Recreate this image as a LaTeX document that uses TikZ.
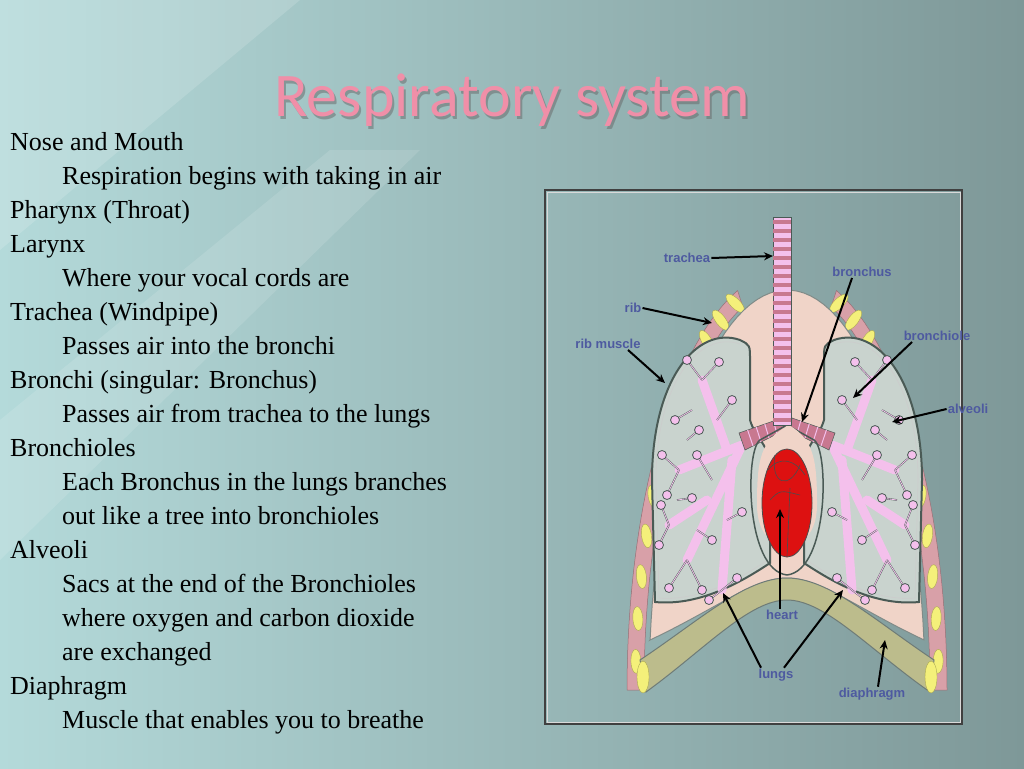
\documentclass[tikz,border=0pt]{standalone}
\usepackage{fontspec}
\setmainfont{Liberation Serif}
\newfontfamily\titlefont{Carlito}
\newfontfamily\labfont{Liberation Sans}
\usetikzlibrary{arrows.meta,calc}
\definecolor{ttl}{HTML}{F08FA8}
\definecolor{muscle}{HTML}{D8A0A8}
\definecolor{ribc}{HTML}{F4F07A}
\definecolor{peach}{HTML}{F0D4C8}
\definecolor{lungc}{HTML}{C9D3CE}
\definecolor{edge}{HTML}{4A5A55}
\definecolor{bron}{HTML}{F4C0EC}
\definecolor{ring}{HTML}{C87890}
\definecolor{dia}{HTML}{BCBC8C}
\definecolor{heartc}{HTML}{DD1111}
\definecolor{labc}{HTML}{4E5AA0}
\definecolor{bgUL}{HTML}{B4DADA}
\definecolor{bgLR}{HTML}{7E9898}
\tikzset{
  body/.style={anchor=base west,font=\fontsize{26}{34}\selectfont,text=black,inner sep=0},
  lab/.style={font=\labfont\bfseries\fontsize{13}{15}\selectfont,text=labc,inner sep=1},
  arr/.style={-{Stealth[length=9pt,width=8pt]},line width=2pt,black},
  alv/.style={fill=bron,draw=edge,line width=0.8pt}
}
\begin{document}
\begin{tikzpicture}[x=1pt,y=-1pt]
\useasboundingbox (0,0) rectangle (1024,768);
\shade[left color=bgUL,right color=bgLR] (0,0) rectangle (1024,768);
\fill[white,opacity=0.15] (0,0) -- (300,0) -- (0,250) -- cycle;
\fill[white,opacity=0.12] (0,420) -- (330,150) -- (420,150) -- (0,560) -- cycle;
% title
\node[font=\titlefont\fontsize{62}{70}\selectfont,text=black!60,opacity=0.5] at (514,103) {Respiratory system};
\node[font=\titlefont\fontsize{62}{70}\selectfont,text=ttl] (title) at (512,100) {Respiratory system};
% body text
\node[body] (t1) at (10,150) {Nose and Mouth};
\node[body] (t2) at (62,184) {Respiration begins with taking in air};
\node[body] (t3) at (10,218) {Pharynx (Throat)};
\node[body] (t4) at (10,252) {Larynx};
\node[body] (t5) at (62,286) {Where your vocal cords are};
\node[body] (t6) at (10,320) {Trachea (Windpipe)};
\node[body] (t7) at (62,354) {Passes air into the bronchi};
\node[body] (t8) at (10,388) {Bronchi (singular: Bronchus)};
\node[body] (t9) at (62,422) {Passes air from trachea to the lungs};
\node[body] (t10) at (10,456) {Bronchioles};
\node[body] (t11) at (62,490) {Each Bronchus in the lungs branches};
\node[body] (t12) at (62,524) {out like a tree into bronchioles};
\node[body] (t13) at (10,558) {Alveoli};
\node[body] (t14) at (62,592) {Sacs at the end of the Bronchioles};
\node[body] (t15) at (62,626) {where oxygen and carbon dioxide};
\node[body] (t16) at (62,660) {are exchanged};
\node[body] (t17) at (10,694) {Diaphragm};
\node[body] (t18) at (62,728) {Muscle that enables you to breathe};
% frame
\draw[black!75,line width=1.5pt] (545,190) rectangle (962,724);
\draw[white!70!gray,line width=0.6pt] (547,192) rectangle (960,722);
% rib muscle band (both sides)
\foreach \s in {1,-1}{
\begin{scope}[shift={(787,0)},xscale=\s]
\fill[muscle,draw=muscle!70!black,line width=0.5pt] plot[domain=0:72,samples=40] ({-160*cos(\x)},{690-420*sin(\x)})
  -- plot[domain=72:0,samples=40] ({-143*cos(\x)},{690-403*sin(\x)}) -- cycle;
\foreach \t in {4,10,...,70}{
  \pgfmathsetmacro{\px}{-151.5*cos(\t)}
  \pgfmathsetmacro{\py}{690-411.5*sin(\t)}
  \pgfmathsetmacro{\an}{atan2(411.5*cos(\t),151.5*sin(\t))}
  \fill[ribc,draw=ribc!70!black,line width=0.4pt,shift={(\px,\py)},rotate=-\an] (0,0) ellipse (12 and 5);
}
\end{scope}}
% pleural region
\fill[peach,draw=edge!70,line width=1pt] plot[domain=7.2:172.8,samples=60] ({787-138*cos(\x)},{690-400*sin(\x)})
  .. controls (860,610) and (820,578) .. (787,578) .. controls (754,578) and (714,610) .. (650,640) -- cycle;
% diaphragm
\fill[dia,draw=edge!80,line width=1pt] (640,660) .. controls (700,620) and (745,578) .. (787,578)
  .. controls (829,578) and (874,620) .. (934,660) -- (930,692) .. controls (870,650) and (825,600) .. (787,600)
  .. controls (749,600) and (704,650) .. (646,692) -- cycle;
\fill[ribc,draw=ribc!70!black] (643,677) ellipse (6 and 16);
\fill[ribc,draw=ribc!70!black] (931,677) ellipse (6 and 16);
% lungs
\foreach \s in {1,-1}{
\begin{scope}[shift={(787,0)},xscale=\s]
\filldraw[lungc,draw=edge,line width=2pt] (-47,340) .. controls (-90,325) and (-135,380) .. (-135,480)
  -- (-132,602) .. controls (-90,606) and (-50,585) .. (-17,563) -- (-17,468)
  .. controls (-17,445) and (-32,438) .. (-37,420) -- (-37,360) .. controls (-37,345) .. cycle;
\draw[white!60!gray,line width=0.6pt] (-47,344) .. controls (-88,330) and (-131,383) .. (-131,480)
  -- (-128,598) .. controls (-90,601) and (-52,582) .. (-21,561);
% bronchi trees
\foreach \a/\b in {{(-45,445)}/{(-100,560)},{(-45,445)}/{(-108,470)},{(-60,450)}/{(-85,380)},{(-55,460)}/{(-65,590)},{(-80,500)}/{(-118,525)}}{
  \draw[bron,line width=9pt,line cap=round] \a -- \b;}
\foreach \x/\y/\u/\v in {-100/560/-118/588,-100/560/-85/590,-108/470/-125/455,-108/470/-120/495,-85/380/-100/360,-85/380/-68/362,
  -65/590/-50/578,-65/590/-78/600,-118/525/-128/545,-118/525/-126/505,-90/530/-75/540,-95/410/-112/420,-70/420/-55/400,
  -75/480/-90/455,-60/520/-45/512,-110/500/-95/498,-100/440/-88/430}{
  \draw[edge,line width=1.6pt] (\x,\y) -- (\u,\v);
  \draw[bron,line width=0.8pt] (\x,\y) -- (\u,\v);
  \draw[alv] (\u,\v) circle (4.5);}
% bronchus
\fill[ring,draw=edge,line width=0.5pt] (-5,418) -- (-48,433) -- (-42,450) -- (-2,430) -- cycle;
\foreach \k in {0.2,0.4,0.6,0.8}{\draw[bron,line width=1pt] ($(-5,418)!\k!(-48,433)$) -- ($(-2,430)!\k!(-42,450)$);}
\end{scope}}
% mediastinum / heart
\draw[edge,line width=1.5pt] (787,575) .. controls (745,570) and (745,450) .. (760,440) -- (787,425) -- (814,440)
  .. controls (829,450) and (829,570) .. (787,575);
\fill[peach] (789,425) .. controls (760,440) and (757,460) .. (757,505) .. controls (757,560) and (817,560) .. (817,505)
  .. controls (817,460) and (814,440) .. (789,425);
\filldraw[heartc,draw=black!70,line width=0.8pt] (787,503) ellipse (25 and 54);
\draw[black!70,line width=0.6pt] (768,470) .. controls (780,455) and (795,460) .. (805,475)
  (775,455) .. controls (770,485) and (790,490) .. (800,465) (790,488) -- (787,556) (770,500) .. controls (780,490) .. (800,495);
% trachea
\fill[bron,draw=edge,line width=0.6pt] (773,217) rectangle (791,425);
\foreach \yy in {220,229,...,420}{\fill[ring] (773,\yy) rectangle (791,\yy+4);}
% labels
\node[lab] (ltrachea) at (687,258) {trachea};
\node[lab] (lbronchus) at (862,272) {bronchus};
\node[lab] (lrib) at (633,308) {rib};
\node[lab] (lribm) at (608,344) {rib muscle};
\node[lab] (lbronchiole) at (937,336) {bronchiole};
\node[lab] (lalveoli) at (968,409) {alveoli};
\node[lab] (lheart) at (782,615) {heart};
\node[lab] (llungs) at (776,675) {lungs};
\node[lab] (ldia) at (872,694) {diaphragm};
\coordinate (ptrachea) at (773,256);
\coordinate (prib) at (712,323);
\coordinate (pribm) at (665,383);
\coordinate (pbronchus) at (802,422);
\coordinate (pbronchiole) at (853,398);
\coordinate (palveoli) at (892,422);
\coordinate (pheart) at (780,509);
\coordinate (plungL) at (723,593);
\coordinate (plungR) at (843,590);
\coordinate (pdia) at (885,640);
\draw[arr] (ltrachea.east) -- (ptrachea);
\draw[arr] (lrib.east) -- (prib);
\draw[arr] ($(lribm.south)+(20,0)$) -- (pribm);
\draw[arr] ($(lbronchus.south)+(-10,0)$) -- (pbronchus);
\draw[arr] ($(lbronchiole.south)+(-25,0)$) -- (pbronchiole);
\draw[arr] (lalveoli.west) -- (palveoli);
\draw[arr] ($(lheart.north)+(-2,0)$) -- (pheart);
\draw[arr] ($(llungs.north)+(-15,0)$) -- (plungL);
\draw[arr] ($(llungs.north)+(8,0)$) -- (plungR);
\draw[arr] ($(ldia.north)+(6,0)$) -- (pdia);
\end{tikzpicture}
\end{document}
